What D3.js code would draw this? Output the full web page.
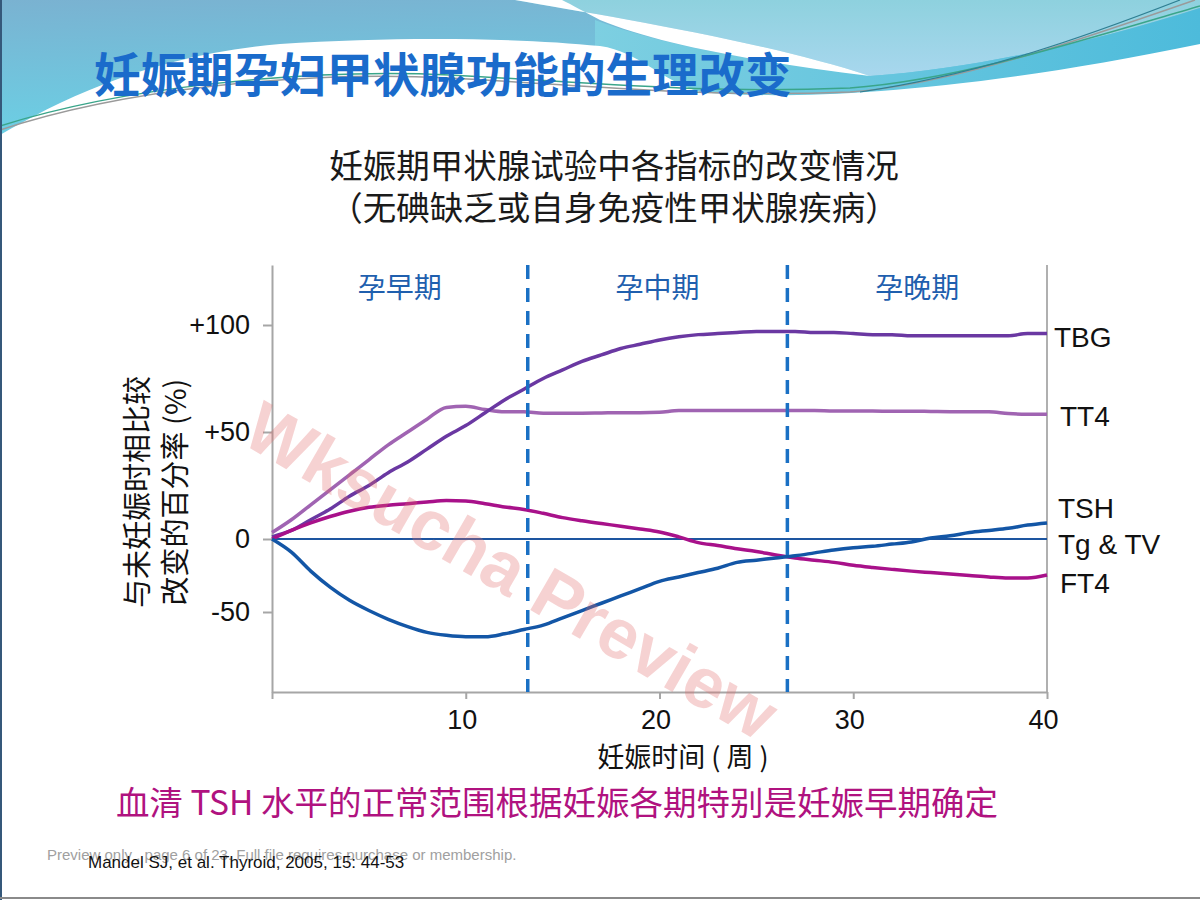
<!DOCTYPE html>
<html>
<head>
<meta charset="utf-8">
<script src="https://cdn.jsdelivr.net/npm/d3@7"></script>
<style>
  body { margin: 0; background: #fff; }
  svg { display: block; }
  .cjk { font-family: "Noto Sans CJK SC", sans-serif; }
  .lat { font-family: "Liberation Sans", Arial, sans-serif; }
  .axis path, .axis line { stroke: #a6a6a6; stroke-width: 2; }
</style>
</head>
<body>
<div id="chart"></div>
<script>
// data (weeks of gestation vs. % change)
const weeks = [0,1,2,3,4,5,6,7,8,9,10,11,12,13,14,15,16,17,18,19,20,
  21,22,23,24,25,26,27,28,29,30,31,32,33,34,35,36,37,38,39,40]
const tbg = [1,4,9,14,20,25,31,36,42,48,53,59,65,70,75,79,83,86,89,91,93,
  94.5,95.5,96,96.5,97,97,97,96.5,96.5,96,95.5,95.5,95,95,95,95,95,95,96,96]
const tt4 = [3,9,16,23,30,37,44,50,56,61.5,62,60.5,59.5,59.5,58.8,58.8,58.8,58.9,59,59,59.2,
  60,60,60,60,60,60,60,60,59.8,59.8,59.8,59.7,59.7,59.6,59.5,59.5,59.5,58.6,58.3,58.3]
const tsh = [0,-9,-22,-33,-42,-49,-55,-60,-64,-66,-67,-67,-65,-62,-59,-54,-49,-44,-39,-34,-29,
  -26,-23,-20,-16,-14.5,-13,-11.5,-9.5,-7.5,-6,-5,-3.5,-2,0.5,1.5,3,4,5,6.5,7.5]
const ft4 = [0,4,7.5,10.5,13,14.8,15.8,16.5,17.3,18,17.8,16.5,15,13.8,12,10,8.5,7.2,6,4.7,3.3,
  1,-2.5,-4.5,-6.7,-8.5,-11,-13,-14.5,-16,-18,-19.5,-20.8,-22,-23,-24,-25,-26,-26.7,-26.7,-24.7]

const xTicks = [0, 10, 20, 30, 40]
const yTicks = [-50, 0, 50, 100]
const yTickLabels = ['-50', '0', '+50', '+100']
const trimesterBreaks = [13.2, 26.6]
const trimesters = ['孕早期', '孕中期', '孕晚期']
const seriesNames = ['TBG', 'TT4', 'TSH', 'Tg & TV', 'FT4']
const seriesLabelAt = [94.5, 57.5, 14.5, -3.4, -30]

const series = [
  { name: 'TT4', values: tt4, color: '#a064b2' },
  { name: 'TBG', values: tbg, color: '#6a38a2' },
  { name: 'FT4', values: ft4, color: '#a8118a' },
  { name: 'TSH', values: tsh, color: '#1356a6' }
]

const width = 1200
const height = 900

const svg = d3.select('#chart')
  .append('svg')
  .attr('width', width)
  .attr('height', height)

// ---------- slide header (waves) ----------
const defs = svg.append('defs')
const g1 = defs.append('linearGradient').attr('id', 'bgBlue')
  .attr('x1', 0).attr('y1', 0).attr('x2', 0.25).attr('y2', 1)
g1.append('stop').attr('offset', '0%').attr('stop-color', '#7ab2d1')
g1.append('stop').attr('offset', '100%').attr('stop-color', '#6ad2e6')
const g2 = defs.append('linearGradient').attr('id', 'bgLight')
  .attr('x1', 0).attr('y1', 0).attr('x2', 0).attr('y2', 1)
g2.append('stop').attr('offset', '0%').attr('stop-color', '#8ed1de')
g2.append('stop').attr('offset', '100%').attr('stop-color', '#a8d7ee')
const g3 = defs.append('linearGradient').attr('id', 'band')
  .attr('x1', 0).attr('y1', 0).attr('x2', 1).attr('y2', 0)
g3.append('stop').attr('offset', '0%').attr('stop-color', '#7dcfe1')
g3.append('stop').attr('offset', '100%').attr('stop-color', '#4dbbdb')

const header = svg.append('g')
header.append('rect').attr('width', width).attr('height', 140).attr('fill', 'url(#bgBlue)')
header.append('path')
  .attr('d', 'M515,0 L1200,0 L1200,8 C1100,40 980,68 870,76 C760,40 600,15 515,0 Z')
  .attr('fill', 'url(#bgLight)')
header.append('path')
  .attr('d', 'M595,20 C660,45 760,62 870,76 C980,68 1100,40 1200,8 L1200,140 L595,140 Z')
  .attr('fill', 'url(#band)')
header.append('path')
  .attr('d', 'M515,0 C600,15 760,40 870,76 C760,62 660,45 600,20 C585,12 572,5 562,0 Z')
  .attr('fill', '#fff')
header.append('path')
  .attr('d', 'M0,135 C60,100 150,55 280,44 C400,36 520,38 600,46 C640,52 660,80 700,92 C780,100 950,96 1200,44 L1200,140 L0,140 Z')
  .attr('fill', '#fff')
svg.append('rect').attr('y', 139).attr('width', width).attr('height', height - 139).attr('fill', '#fff')

header.append('path')
  .attr('d', 'M0,130 C120,90 300,70 450,78 C600,86 700,98 850,92 C950,85 1080,40 1195,0')
  .attr('fill', 'none').attr('stroke', '#9a9a9a').attr('stroke-width', 1.5)
header.append('path')
  .attr('d', 'M0,126 C120,88 300,68 450,75 C600,83 700,94 850,88 C960,80 1090,38 1200,6')
  .attr('fill', 'none').attr('stroke', '#3aa58a').attr('stroke-width', 1.5)
header.append('path')
  .attr('d', 'M860,92 C980,75 1090,35 1180,0')
  .attr('fill', 'none').attr('stroke', '#2f7f92').attr('stroke-width', 1.2)

svg.append('text')
  .attr('class', 'cjk')
  .attr('x', 94).attr('y', 92)
  .attr('font-size', 46.5).attr('font-weight', 700)
  .attr('fill', '#1a6bcb')
  .text('妊娠期孕妇甲状腺功能的生理改变')

// slide frame
svg.append('line').attr('x1', 1).attr('x2', 1).attr('y1', 0).attr('y2', height)
  .attr('stroke', '#35587a').attr('stroke-width', 2)
svg.append('line').attr('x1', 0).attr('x2', width).attr('y1', 898).attr('y2', 898)
  .attr('stroke', '#8a8a8a').attr('stroke-width', 2)

// ---------- chart ----------
const dims = { left: 272, right: 1047, top: 265, bottom: 692 }

const xScale = d3.scaleLinear()
  .domain([0, 40])
  .range([dims.left, dims.right])

// the y axis of the original is not linear below zero
const yScale = d3.scaleLinear()
  .domain([-105, -50, 0, 100, 128])
  .range([dims.bottom, 612, 539, 325, dims.top])

// chart title
const title = svg.append('text').attr('class', 'cjk')
  .attr('text-anchor', 'middle').attr('font-size', 33.5).attr('fill', '#1a1a1a')
title.append('tspan').attr('x', 614).attr('y', 178).text('妊娠期甲状腺试验中各指标的改变情况')
title.append('tspan').attr('x', 614).attr('y', 220).text('（无碘缺乏或自身免疫性甲状腺疾病）')

// right frame line
svg.append('line')
  .attr('x1', xScale(40)).attr('x2', xScale(40))
  .attr('y1', dims.top).attr('y2', dims.bottom)
  .attr('stroke', '#b0b0b0').attr('stroke-width', 2)

// axes
const yAxis = d3.axisLeft(yScale)
  .tickValues(yTicks)
  .tickFormat((d, i) => yTickLabels[i])
  .tickSize(9)
  .tickSizeOuter(0)
const yAxisGroup = svg.append('g')
  .attr('class', 'axis')
  .attr('transform', `translate(${dims.left},0)`)
  .call(yAxis)
yAxisGroup.selectAll('text')
  .attr('class', 'lat')
  .attr('font-size', 27)
  .attr('fill', '#111')
  .attr('x', -22)

const xAxis = d3.axisBottom(xScale)
  .tickValues(xTicks)
  .tickFormat(d => d === 0 ? '' : d)
  .tickSize(7)
  .tickSizeOuter(0)
const xAxisGroup = svg.append('g')
  .attr('class', 'axis')
  .attr('transform', `translate(0,${dims.bottom})`)
  .call(xAxis)
xAxisGroup.selectAll('text')
  .attr('class', 'lat')
  .attr('font-size', 27)
  .attr('fill', '#111')
  .attr('dx', -4)
  .attr('y', 18)

// zero line
svg.append('line')
  .attr('x1', xScale(0)).attr('x2', xScale(40))
  .attr('y1', yScale(0)).attr('y2', yScale(0))
  .attr('stroke', '#1d55a0').attr('stroke-width', 2)

// curves
const line = d3.line()
  .x((d, i) => xScale(weeks[i]))
  .y(d => yScale(d))
  .curve(d3.curveMonotoneX)

svg.selectAll('.curve')
  .data(series)
  .join('path')
  .attr('class', 'curve')
  .attr('d', d => line(d.values))
  .attr('fill', 'none')
  .attr('stroke', d => d.color)
  .attr('stroke-width', 3.5)
  .attr('stroke-linejoin', 'round')

// trimester boundaries
svg.selectAll('.break')
  .data(trimesterBreaks)
  .join('line')
  .attr('class', 'break')
  .attr('x1', d => xScale(d)).attr('x2', d => xScale(d))
  .attr('y1', dims.top).attr('y2', dims.bottom)
  .attr('stroke', '#1a70c4')
  .attr('stroke-width', 3.5)
  .attr('stroke-dasharray', '14 9')

// trimester labels
const bounds = [0, ...trimesterBreaks, 40]
svg.selectAll('.tri')
  .data(trimesters)
  .join('text')
  .attr('class', 'tri cjk')
  .attr('x', (d, i) => xScale((bounds[i] + bounds[i + 1]) / 2))
  .attr('y', 298)
  .attr('text-anchor', 'middle')
  .attr('font-size', 28)
  .attr('fill', '#1f5fae')
  .text(d => d)

// series labels at the right
const labelDx = [7, 13, 11, 11, 13]
svg.selectAll('.slabel')
  .data(seriesNames)
  .join('text')
  .attr('class', 'slabel lat')
  .attr('x', (d, i) => xScale(40) + labelDx[i])
  .attr('y', (d, i) => yScale(seriesLabelAt[i]))
  .attr('dy', '0.36em')
  .attr('font-size', 28)
  .attr('fill', '#111')
  .text(d => d)

// axis titles
const yTitle = svg.append('text').attr('class', 'cjk')
  .attr('transform', 'translate(0,492) rotate(-90)')
  .attr('text-anchor', 'middle').attr('font-size', 29).attr('fill', '#111')
yTitle.append('tspan').attr('x', 0).attr('y', 148).text('与未妊娠时相比较')
yTitle.append('tspan').attr('x', 0).attr('y', 186).text('改变的百分率 (%)')

svg.append('text').attr('class', 'cjk')
  .attr('x', 683).attr('y', 767)
  .attr('text-anchor', 'middle').attr('font-size', 27).attr('fill', '#111')
  .text('妊娠时间 ( 周 )')

// footer
svg.append('text').attr('class', 'cjk')
  .attr('x', 557).attr('y', 815)
  .attr('text-anchor', 'middle').attr('font-size', 33.5).attr('fill', '#b0127f')
  .text('血清 TSH 水平的正常范围根据妊娠各期特别是妊娠早期确定')

svg.append('text').attr('class', 'lat')
  .attr('x', 47).attr('y', 860)
  .attr('font-size', 15).attr('fill', '#a0a0a0')
  .text('Preview only , page 6 of 23. Full file requires purchase or membership.')

svg.append('text').attr('class', 'lat')
  .attr('x', 88).attr('y', 868)
  .attr('font-size', 17).attr('fill', '#111')
  .text('Mandel SJ, et al.  Thyroid, 2005, 15: 44-53')

// watermark
svg.append('text').attr('class', 'lat')
  .attr('transform', 'translate(499,592) rotate(30)')
  .attr('text-anchor', 'middle')
  .attr('font-size', 71).attr('font-weight', 700)
  .attr('fill', '#e06a6a').attr('fill-opacity', 0.3)
  .text('Wksucha Preview')
</script>
</body>
</html>
